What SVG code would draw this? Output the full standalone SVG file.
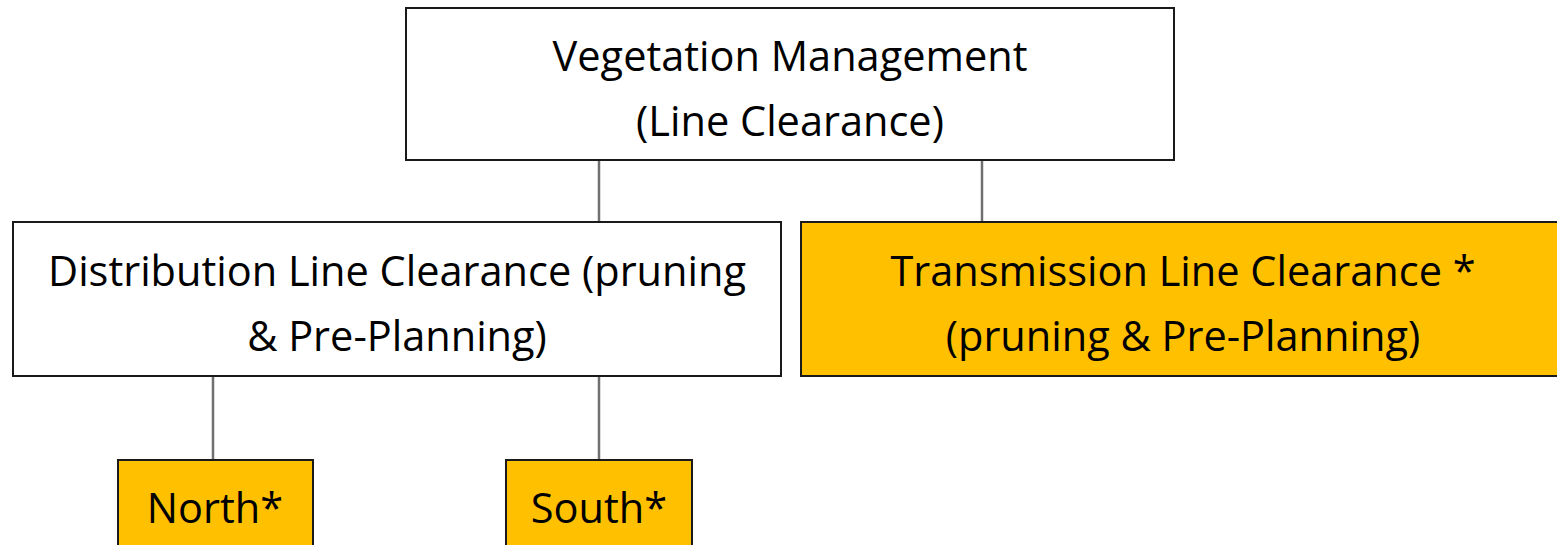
<svg xmlns="http://www.w3.org/2000/svg" width="1557" height="545" viewBox="0 0 1557 545">
<style>
.box{stroke:#1a1a1a;stroke-width:2}
.w{fill:#ffffff}
.y{fill:#FFC000}
.t{font-family:"Open Sans","Noto Sans","Liberation Sans",sans-serif;font-size:41.5px;fill:#000;text-anchor:middle}
.c{stroke:#707070;stroke-width:2.5;fill:none}
</style>
<rect width="1557" height="545" fill="#ffffff"/>
<g id="connectors">
<line class="c" x1="599" y1="160" x2="599" y2="222"/>
<line class="c" x1="982" y1="160" x2="982" y2="222"/>
<line class="c" x1="213" y1="376" x2="213" y2="460"/>
<line class="c" x1="599" y1="376" x2="599" y2="460"/>
</g>
<g id="n_veg">
<rect class="box w" x="406" y="8" width="768" height="152"/>
<text class="t" x="790" y="71">Vegetation Management</text>
<text class="t" x="790" y="136">(Line Clearance)</text>
</g>
<g id="n_dist">
<rect class="box w" x="13" y="222" width="768" height="154"/>
<text class="t" x="397" y="286">Distribution Line Clearance (pruning</text>
<text class="t" x="397" y="351">&amp; Pre-Planning)</text>
</g>
<g id="n_trans">
<rect class="box y" x="801" y="222" width="768" height="154"/>
<text class="t" x="1183" y="286">Transmission Line Clearance *</text>
<text class="t" x="1183" y="351">(pruning &amp; Pre-Planning)</text>
</g>
<g id="n_north">
<rect class="box y" x="118" y="460" width="195" height="100"/>
<text class="t" x="215" y="523">North*</text>
</g>
<g id="n_south">
<rect class="box y" x="506" y="460" width="186" height="100"/>
<text class="t" x="599" y="523">South*</text>
</g>
</svg>
